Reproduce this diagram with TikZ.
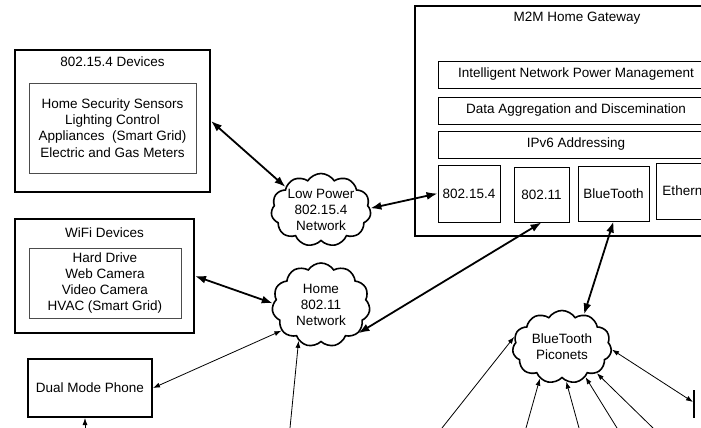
\documentclass[tikz,border=0pt]{standalone}
\usepackage{fontspec}
\setmainfont{Liberation Sans}
\usetikzlibrary{shapes.symbols,arrows.meta}

\tikzset{
  outerbox/.style={draw,line width=2pt,inner sep=0pt},
  innerbox/.style={draw,line width=0.9pt,black!70,text=black,inner sep=0pt,align=center},
  netcloud/.style={draw,cloud,cloud puffs=11,cloud puff arc=115,cloud ignores aspect,
                   line width=1.6pt,inner sep=0pt,align=center},
  boldlink/.style={{Latex[length=11pt,width=8pt]}-{Latex[length=11pt,width=8pt]},line width=1.8pt},
  thinlink/.style={{Latex[length=7pt,width=5pt]}-{Latex[length=7pt,width=5pt]},line width=0.8pt},
  thinin/.style={-{Latex[length=7pt,width=5pt]},line width=0.8pt},
}

\begin{document}
\begin{tikzpicture}[x=1pt,y=-1pt,font=\fontsize{13.5}{16.3}\selectfont]
    \useasboundingbox (0,0) rectangle (701,428);
    \clip (0,0) rectangle (701,428);

    % device groups on the left
    \node[outerbox,minimum width=195pt,minimum height=142pt] (dev154) at (112.5,121) {};
    \node (dev154title) at (112.5,62) {802.15.4 Devices};
    \node[innerbox,minimum width=167pt,minimum height=90pt] (dev154list) at (112.5,128)
        {Home Security Sensors\\Lighting Control\\Appliances\ \ (Smart Grid)\\Electric and Gas Meters};
    \node[outerbox,minimum width=179pt,minimum height=114pt] (wifi) at (104.5,276) {};
    \node (wifititle) at (104.5,233) {WiFi Devices};
    \node[innerbox,minimum width=152pt,minimum height=70pt] (wifilist) at (105,283)
        {Hard Drive\\Web Camera\\Video Camera\\HVAC (Smart Grid)};
    \node[outerbox,minimum width=124pt,minimum height=58pt] (phone) at (90,388) {Dual Mode Phone};

    % networks
    \node[netcloud,minimum width=97pt,minimum height=73pt] (lowpow) at (321,210) {Low Power\\802.15.4\\Network};
    \node[netcloud,minimum width=98pt,minimum height=84pt] (home) at (321,305) {Home\\802.11\\Network};
    \node[netcloud,minimum width=99pt,minimum height=73pt] (bt) at (562,347) {BlueTooth\\Piconets};

    % gateway
    \node[outerbox,minimum width=325pt,minimum height=230pt] (gw) at (577.5,121) {};
    \node (gwtitle) at (577,18) {M2M Home Gateway};
    \node[innerbox,black,minimum width=276pt,minimum height=27pt] (power) at (576,74.5) {Intelligent Network Power Management};
    \node[innerbox,black,minimum width=276pt,minimum height=27pt] (aggr) at (576,110.5) {Data Aggregation and Discemination};
    \node[innerbox,black,minimum width=276pt,minimum height=27pt] (ipv6) at (576,144.5) {IPv6 Addressing};
    \node[innerbox,black,minimum width=62pt,minimum height=57pt] (p154) at (469,193.5) {802.15.4};
    \node[innerbox,black,minimum width=55pt,minimum height=55pt] (p11) at (541.5,194.5) {802.11};
    \node[innerbox,black,minimum width=71pt,minimum height=55pt] (pbt) at (613.5,193.5) {BlueTooth};
    \node[innerbox,black,minimum width=64pt,minimum height=56pt] (peth) at (688,191) {Ethernet};

    % free ends below the picture
    \coordinate (phonein) at (85,428);
    \coordinate (homein) at (290,428);
    \coordinate (btin1) at (442,428);
    \coordinate (btin2) at (526,428);
    \coordinate (btin3) at (579,428);
    \coordinate (btin4) at (617,428);
    \coordinate (btin5) at (653,428);
    \coordinate (btdev) at (693,402);
    \draw[line width=1.8pt] (694,390) -- (694,418);

    % links
    \draw[boldlink] (dev154.east) -- (lowpow.147);
    \draw[boldlink] (lowpow.2) -- (p154.west);
    \draw[boldlink] (wifi.east) -- (home.178);
    \draw[thinlink] (phone.east) -- (home.213);
    \draw[thinin] (homein) -- (home.238);
    \draw[boldlink] (p11.south) -- (home.323);
    \draw[boldlink] (pbt.south) -- (bt.56);
    \draw[thinin] (phonein) -- (phonein |- phone.south);
    \draw[thinin] (btin1) -- (bt.168);
    \draw[thinin] (btin2) -- (bt.235);
    \draw[thinin] (btin3) -- (bt.277);
    \draw[thinin] (btin4) -- (bt.308);
    \draw[thinin] (btin5) -- (bt.323);
    \draw[thinlink] (bt.357) -- (btdev);
\end{tikzpicture}
\end{document}
